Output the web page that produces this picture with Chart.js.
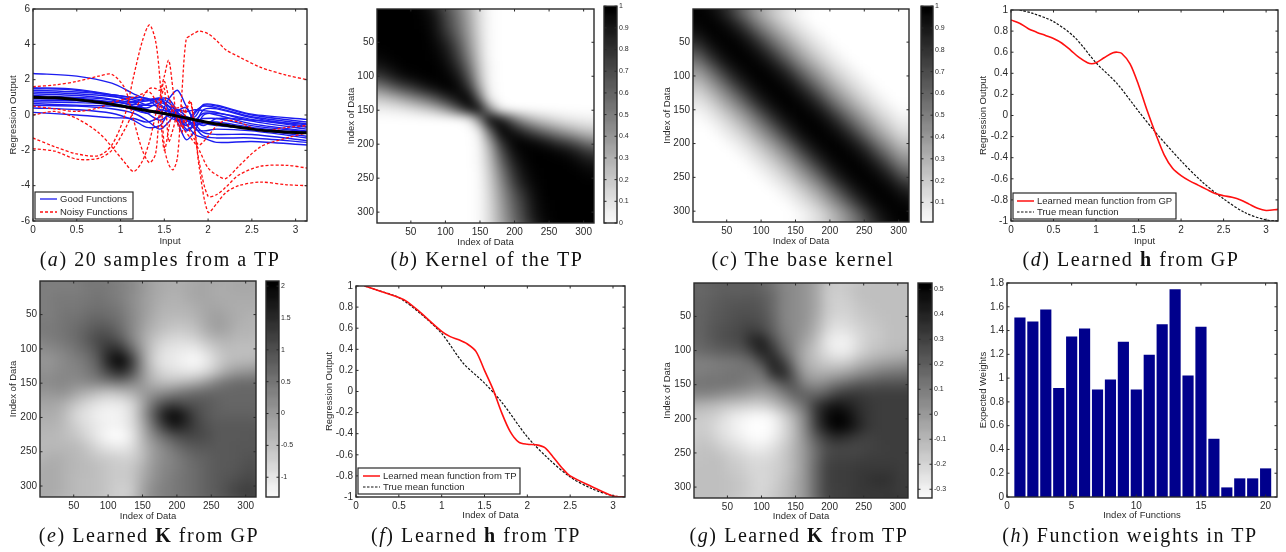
<!DOCTYPE html>
<html>
<head>
<meta charset="utf-8">
<title>Learned kernels</title>
<script src="https://cdn.jsdelivr.net/npm/chart.js@4/dist/chart.umd.min.js"></script>
<style>
    html, body { margin: 0; background: #fff; }
    body { position: relative; width: 1286px; height: 552px; overflow: hidden; }
    canvas { position: absolute; filter: blur(0.55px); }
    .cap { position: absolute; white-space: nowrap; transform: translateX(-50%);
        font: 20px 'Liberation Serif', serif; letter-spacing: 1.55px; color: #111; filter: blur(0.35px); }
</style>
</head>
<body>
<div class="cap" style="left:160px;top:248px">(<i>a</i>) 20 samples from a TP</div>
<div class="cap" style="left:487px;top:248px">(<i>b</i>) Kernel of the TP</div>
<div class="cap" style="left:803px;top:248px">(<i>c</i>) The base kernel</div>
<div class="cap" style="left:1131px;top:248px">(<i>d</i>) Learned <b>h</b> from GP</div>
<div class="cap" style="left:149px;top:524px">(<i>e</i>) Learned <b>K</b> from GP</div>
<div class="cap" style="left:476px;top:524px">(<i>f</i>) Learned <b>h</b> from TP</div>
<div class="cap" style="left:799px;top:524px">(<i>g</i>) Learned <b>K</b> from TP</div>
<div class="cap" style="left:1130px;top:524px">(<i>h</i>) Function weights in TP</div>
<script>
'use strict';

// --- panel a: samples
const blueX = [0, 0.5, 0.9, 1.15, 1.3, 1.45, 1.55, 1.65, 1.75, 1.85, 1.95, 2.1, 2.5, 3.13];
const goodFunctions = [
    [2.35, 2.2, 1.8, 1.2, 0.9, 0.9, 0.5, 0, -0.2, -0.1, 0.6, 0.55, 0.05, -0.25],
    [1.55, 1.45, 1.15, 0.95, 0.8, 0.95, 0.9, 0.2, -0.6, 0.1, 0.55, 0.5, 0, -0.4],
    [1.5, 1.4, 1.1, 0.7, 0.3, 0.1, 0.9, 1.4, 0.5, -0.3, -0.6, -0.2, -0.3, -0.55],
    [1.4, 1.3, 1.15, 1, 0.95, 0.6, 0.2, -0.3, -0.4, 0.2, 0.5, 0.4, -0.1, -0.5],
    [1.3, 1.2, 1.05, 0.85, 0.6, 0.9, 0.7, 0.1, -0.8, -0.5, 0.3, 0.35, -0.15, -0.65],
    [1.2, 1.1, 0.9, 0.7, 0.8, 0.95, 0.3, -0.4, -1.4, -0.9, 0, 0.1, -0.25, -0.7],
    [1.1, 1, 0.85, 0.5, 0.4, 0.7, 0.5, 0.3, 0.2, 0.3, 0.25, 0.15, -0.35, -0.8],
    [1, 0.95, 0.75, 0.6, 0.55, 0.5, 0.2, -0.2, -0.6, -0.3, 0.1, 0, -0.5, -0.9],
    [0.95, 0.85, 0.75, 0.75, 0.9, 0.3, -0.1, -0.3, -0.1, -0.3, -0.2, -0.2, -0.6, -0.95],
    [0.85, 0.8, 0.65, 0.45, 0.6, 0.8, 0.5, -0.2, -0.9, -0.6, -0.4, -0.4, -0.7, -1.05],
    [0.75, 0.7, 0.6, 0.3, 0.1, 0.3, 0.2, 0.1, -0.3, -0.5, -0.5, -0.6, -0.8, -1.2],
    [0.65, 0.55, 0.5, 0.35, 0.1, -0.3, 0, 0.1, -0.2, -0.8, -0.9, -0.8, -0.9, -1.3],
    [0.55, 0.5, 0.35, 0.1, -0.3, -0.8, -0.4, 0.2, 0.4, -0.5, -1, -1.1, -1.1, -1.45],
    [0.4, 0.3, 0.1, -0.3, -0.7, -0.6, 0.1, 0.3, -0.1, -0.7, -1.2, -1.3, -1.3, -1.55],
    [0.15, 0, -0.15, -0.2, -0.4, -0.1, 0.3, 0.1, -0.5, -1.1, -1.3, -1.55, -1.5, -1.7],
];
const redX = [0, 0.25, 0.5, 0.75, 0.9, 1.05, 1.15, 1.25, 1.33, 1.4, 1.45, 1.5, 1.55, 1.6, 1.65, 1.7, 1.75, 1.8, 1.85, 1.9, 2, 2.1, 2.2, 2.35, 2.6, 2.9, 3.13];
const noisyFunctions = [
    [-1.3, -1.8, -2.2, -2.3, -1.7, 0, 2.2, 4.2, 5.1, 4.2, 2, -1.8, -2.8, -3.1, -2.4, 1.2, 4.3, 4.5, 4.65, 4.75, 4.6, 4.2, 3.7, 3.3, 2.7, 2.25, 2],
    [-1.9, -2.05, -2.5, -2.45, -2, -0.8, 0.2, 1, 1.5, 1.5, 1.4, 2.2, 3.1, 1.4, -0.4, -0.6, 0.4, 0.8, -0.8, -3, -5.5, -5, -4.4, -4, -3.8, -3.95, -4],
    [0, 0.2, -0.2, -1, -1.8, -2.7, -3.2, -2.6, -1.5, 0, 1, 1.9, 1, 0.3, -0.5, -1, 0.2, 0.7, -1, -2.7, -4.6, -4.5, -4.1, -3.4, -2.9, -2.85, -3],
    [1.6, 1.7, 1.9, 2.2, 2.3, 1.5, -0.3, -2, -2.7, -2.2, 0.5, 1.5, -1.5, -0.8, 0, -0.6, -1, -1.3, -1.6, -2, -3, -3.4, -3.6, -2.9, -1.8, -1.3, -1],
    [0.5, 0.35, 0.2, 0.4, 0.7, 0.9, 1, 1.2, 1.3, 0.8, 0, -2, -0.8, 0.5, 0.4, 0.5, -0.3, -1, -1.4, -1.7, -1.2, -0.6, -0.3, -0.4, -0.9, -0.7, -0.6],
];
const sampleMeanX = [0, 0.25, 0.5, 0.75, 1, 1.25, 1.5, 1.75, 2, 2.25, 2.5, 2.75, 3, 3.13];
const sampleMean = [1, 0.97, 0.87, 0.72, 0.52, 0.3, 0.08, -0.17, -0.42, -0.62, -0.8, -0.92, -0.99, -1];

// --- panels d and f: mean functions
const gpMeanX = [0, 0.1, 0.2, 0.3, 0.4, 0.5, 0.6, 0.7, 0.8, 0.9, 0.95, 1, 1.1, 1.2, 1.25, 1.3, 1.4, 1.5, 1.6, 1.7, 1.8, 1.9, 2, 2.1, 2.2, 2.3, 2.4, 2.5, 2.6, 2.7, 2.8, 2.9, 3, 3.14];
const gpMean = [0.905, 0.875, 0.825, 0.79, 0.76, 0.73, 0.685, 0.62, 0.55, 0.5, 0.49, 0.5, 0.55, 0.595, 0.6, 0.59, 0.49, 0.29, 0.05, -0.17, -0.37, -0.5, -0.57, -0.62, -0.66, -0.7, -0.74, -0.76, -0.775, -0.8, -0.84, -0.88, -0.9, -0.89];
const trueMeanX = [0.1, 0.25, 0.5, 0.75, 1, 1.25, 1.5, 1.7, 2, 2.25, 2.5, 2.75, 3, 3.14];
const trueMeanD = [1, 0.97, 0.89, 0.74, 0.5, 0.3, 0.04, -0.16, -0.43, -0.63, -0.79, -0.92, -0.99, -1];
const tpMeanX = [0.1, 0.25, 0.5, 0.6, 0.75, 1, 1.1, 1.2, 1.3, 1.4, 1.5, 1.6, 1.7, 1.8, 1.9, 2, 2.1, 2.2, 2.3, 2.4, 2.5, 2.75, 3, 3.14];
const tpMean = [1, 0.96, 0.89, 0.85, 0.75, 0.57, 0.52, 0.49, 0.45, 0.38, 0.2, 0.02, -0.2, -0.38, -0.48, -0.5, -0.505, -0.53, -0.62, -0.72, -0.8, -0.9, -0.99, -1];
const trueMeanF = [1, 0.96, 0.89, 0.74, 0.55, 0.27, 0.08, -0.1, -0.43, -0.64, -0.81, -0.92, -0.99, -1];

// --- panel h: weights
const funcIndex = [1, 2, 3, 4, 5, 6, 7, 8, 9, 10, 11, 12, 13, 14, 15, 16, 17, 18, 19, 20];
const funcWeights = [1.507, 1.473, 1.574, 0.913, 1.347, 1.415, 0.902, 0.986, 1.303, 0.902, 1.193, 1.451, 1.745, 1.02, 1.429, 0.487, 0.078, 0.154, 0.154, 0.238];

// --- heatmaps: gray level (0 white, 100 black) read at these data indices
const cellIndex = [8, 24, 40, 55, 71, 87, 102, 118, 134, 150, 165, 181, 197, 212, 228, 244, 260, 275, 291, 307];
const kernelTP = [
    [100, 100, 100, 100, 98, 90, 72, 55, 35, 14, 2, 0, 0, 0, 0, 0, 0, 0, 0, 0],
    [100, 100, 100, 100, 99, 92, 75, 58, 37, 15, 2, 0, 0, 0, 0, 0, 0, 0, 0, 0],
    [100, 100, 100, 100, 100, 94, 80, 62, 40, 16, 2, 0, 0, 0, 0, 0, 0, 0, 0, 0],
    [100, 100, 100, 100, 100, 97, 88, 70, 44, 18, 2, 0, 0, 0, 0, 0, 0, 0, 0, 0],
    [98, 100, 100, 100, 100, 99, 92, 76, 50, 20, 2, 0, 0, 0, 0, 0, 0, 0, 0, 0],
    [92, 97, 100, 100, 100, 100, 96, 84, 58, 24, 3, 0, 0, 0, 0, 0, 0, 0, 0, 0],
    [78, 88, 95, 98, 100, 100, 99, 92, 68, 28, 3, 0, 0, 0, 0, 0, 0, 0, 0, 0],
    [50, 62, 72, 80, 90, 96, 100, 98, 82, 38, 4, 0, 0, 0, 0, 0, 0, 0, 0, 0],
    [22, 28, 36, 45, 55, 68, 82, 94, 100, 62, 8, 0, 0, 0, 0, 0, 0, 0, 0, 0],
    [6, 8, 10, 14, 20, 28, 42, 65, 92, 100, 45, 5, 0, 0, 0, 0, 0, 0, 0, 0],
    [0, 0, 0, 0, 0, 0, 0, 0, 5, 45, 100, 92, 65, 42, 28, 20, 14, 10, 8, 6],
    [0, 0, 0, 0, 0, 0, 0, 0, 0, 8, 62, 100, 94, 82, 68, 55, 45, 36, 28, 22],
    [0, 0, 0, 0, 0, 0, 0, 0, 0, 4, 38, 82, 98, 100, 96, 90, 80, 72, 62, 50],
    [0, 0, 0, 0, 0, 0, 0, 0, 0, 3, 28, 68, 92, 99, 100, 100, 98, 95, 88, 78],
    [0, 0, 0, 0, 0, 0, 0, 0, 0, 3, 24, 58, 84, 96, 100, 100, 100, 100, 97, 92],
    [0, 0, 0, 0, 0, 0, 0, 0, 0, 2, 20, 50, 76, 92, 99, 100, 100, 100, 100, 98],
    [0, 0, 0, 0, 0, 0, 0, 0, 0, 2, 18, 44, 70, 88, 97, 100, 100, 100, 100, 100],
    [0, 0, 0, 0, 0, 0, 0, 0, 0, 2, 16, 40, 62, 80, 94, 100, 100, 100, 100, 100],
    [0, 0, 0, 0, 0, 0, 0, 0, 0, 2, 15, 37, 58, 75, 92, 99, 100, 100, 100, 100],
    [0, 0, 0, 0, 0, 0, 0, 0, 0, 2, 14, 35, 55, 72, 90, 98, 100, 100, 100, 100],
];
const baseKernel = [
    [100, 98, 92, 80, 62, 46, 32, 20, 11, 5, 0, 0, 0, 0, 0, 0, 0, 0, 0, 0],
    [98, 100, 98, 92, 80, 62, 46, 32, 20, 11, 5, 0, 0, 0, 0, 0, 0, 0, 0, 0],
    [92, 98, 100, 98, 92, 80, 62, 46, 32, 20, 11, 5, 0, 0, 0, 0, 0, 0, 0, 0],
    [80, 92, 98, 100, 98, 92, 80, 62, 46, 32, 20, 11, 5, 0, 0, 0, 0, 0, 0, 0],
    [62, 80, 92, 98, 100, 98, 92, 80, 62, 46, 32, 20, 11, 5, 0, 0, 0, 0, 0, 0],
    [46, 62, 80, 92, 98, 100, 98, 92, 80, 62, 46, 32, 20, 11, 5, 0, 0, 0, 0, 0],
    [32, 46, 62, 80, 92, 98, 100, 98, 92, 80, 62, 46, 32, 20, 11, 5, 0, 0, 0, 0],
    [20, 32, 46, 62, 80, 92, 98, 100, 98, 92, 80, 62, 46, 32, 20, 11, 5, 0, 0, 0],
    [11, 20, 32, 46, 62, 80, 92, 98, 100, 98, 92, 80, 62, 46, 32, 20, 11, 5, 0, 0],
    [5, 11, 20, 32, 46, 62, 80, 92, 98, 100, 98, 92, 80, 62, 46, 32, 20, 11, 5, 0],
    [0, 5, 11, 20, 32, 46, 62, 80, 92, 98, 100, 98, 92, 80, 62, 46, 32, 20, 11, 5],
    [0, 0, 5, 11, 20, 32, 46, 62, 80, 92, 98, 100, 98, 92, 80, 62, 46, 32, 20, 11],
    [0, 0, 0, 5, 11, 20, 32, 46, 62, 80, 92, 98, 100, 98, 92, 80, 62, 46, 32, 20],
    [0, 0, 0, 0, 5, 11, 20, 32, 46, 62, 80, 92, 98, 100, 98, 92, 80, 62, 46, 32],
    [0, 0, 0, 0, 0, 5, 11, 20, 32, 46, 62, 80, 92, 98, 100, 98, 92, 80, 62, 46],
    [0, 0, 0, 0, 0, 0, 5, 11, 20, 32, 46, 62, 80, 92, 98, 100, 98, 92, 80, 62],
    [0, 0, 0, 0, 0, 0, 0, 5, 11, 20, 32, 46, 62, 80, 92, 98, 100, 98, 92, 80],
    [0, 0, 0, 0, 0, 0, 0, 0, 5, 11, 20, 32, 46, 62, 80, 92, 98, 100, 98, 92],
    [0, 0, 0, 0, 0, 0, 0, 0, 0, 5, 11, 20, 32, 46, 62, 80, 92, 98, 100, 98],
    [0, 0, 0, 0, 0, 0, 0, 0, 0, 0, 5, 11, 20, 32, 46, 62, 80, 92, 98, 100],
];
const learnedKGP = [
    [50, 50, 50, 50, 52, 53, 52, 50, 47, 42, 36, 33, 32, 33, 35, 35, 33, 33, 35, 35],
    [50, 52, 52, 52, 53, 55, 52, 50, 45, 40, 35, 32, 30, 32, 35, 35, 33, 33, 33, 33],
    [50, 52, 53, 53, 55, 56, 55, 52, 46, 40, 35, 30, 30, 30, 32, 35, 35, 33, 32, 32],
    [50, 52, 55, 55, 58, 60, 58, 55, 47, 40, 33, 28, 27, 27, 30, 35, 38, 35, 32, 30],
    [52, 53, 55, 58, 62, 66, 65, 58, 48, 38, 30, 25, 22, 22, 25, 33, 38, 35, 30, 30],
    [50, 52, 55, 58, 65, 72, 72, 65, 50, 36, 25, 18, 15, 15, 18, 25, 30, 30, 28, 28],
    [45, 47, 50, 55, 60, 70, 82, 82, 62, 40, 22, 12, 10, 8, 8, 15, 22, 26, 25, 25],
    [40, 43, 47, 50, 55, 65, 88, 100, 80, 45, 20, 10, 8, 4, 2, 8, 18, 25, 27, 28],
    [42, 45, 47, 48, 52, 60, 75, 85, 72, 45, 25, 15, 12, 10, 10, 15, 25, 35, 40, 42],
    [45, 47, 47, 45, 47, 50, 52, 55, 50, 42, 30, 25, 25, 28, 32, 40, 50, 55, 58, 58],
    [40, 42, 42, 35, 30, 25, 22, 25, 30, 38, 42, 45, 50, 55, 58, 60, 60, 60, 60, 60],
    [35, 35, 30, 22, 15, 10, 8, 8, 15, 32, 55, 70, 75, 70, 68, 65, 62, 60, 60, 60],
    [32, 32, 25, 15, 10, 6, 4, 5, 12, 35, 62, 88, 98, 88, 72, 65, 62, 62, 62, 62],
    [30, 30, 25, 18, 12, 8, 5, 5, 12, 30, 55, 78, 92, 85, 75, 68, 65, 65, 65, 65],
    [28, 28, 25, 22, 15, 8, 2, 0, 8, 27, 45, 58, 68, 72, 72, 70, 65, 65, 65, 66],
    [28, 28, 28, 27, 22, 15, 10, 8, 12, 25, 38, 47, 55, 62, 65, 66, 65, 65, 66, 66],
    [30, 32, 30, 28, 25, 22, 20, 18, 18, 25, 38, 45, 50, 55, 60, 62, 65, 65, 66, 68],
    [33, 33, 30, 28, 27, 25, 22, 20, 22, 30, 40, 47, 50, 55, 58, 62, 65, 65, 67, 70],
    [33, 33, 30, 27, 26, 25, 22, 20, 22, 32, 42, 48, 52, 55, 58, 62, 65, 67, 70, 72],
    [33, 33, 30, 27, 26, 25, 22, 18, 20, 35, 45, 50, 52, 55, 58, 62, 65, 70, 74, 76],
];
const learnedKTP = [
    [58, 60, 62, 62, 62, 62, 60, 55, 48, 45, 42, 35, 22, 20, 22, 25, 25, 25, 25, 25],
    [60, 62, 64, 65, 65, 66, 64, 58, 48, 45, 42, 35, 22, 18, 20, 24, 25, 25, 25, 25],
    [60, 63, 65, 67, 68, 68, 66, 58, 48, 45, 42, 35, 22, 18, 18, 22, 24, 25, 25, 25],
    [60, 64, 66, 68, 70, 70, 68, 60, 48, 45, 42, 33, 20, 15, 16, 20, 22, 24, 25, 25],
    [60, 65, 68, 70, 72, 76, 72, 62, 50, 45, 40, 30, 16, 10, 12, 16, 20, 22, 25, 25],
    [60, 64, 68, 70, 72, 85, 88, 70, 54, 45, 36, 25, 10, 5, 6, 14, 20, 22, 25, 25],
    [58, 60, 62, 64, 66, 75, 88, 80, 60, 45, 32, 22, 12, 6, 8, 16, 22, 25, 27, 28],
    [50, 50, 52, 52, 54, 58, 72, 88, 75, 50, 32, 25, 20, 18, 20, 28, 32, 36, 38, 40],
    [50, 52, 52, 54, 54, 52, 55, 82, 85, 60, 38, 32, 32, 34, 38, 44, 48, 52, 54, 55],
    [54, 55, 55, 55, 52, 50, 48, 55, 68, 66, 48, 44, 48, 55, 60, 65, 66, 68, 68, 68],
    [48, 48, 45, 42, 40, 36, 35, 40, 50, 62, 62, 60, 66, 75, 78, 78, 76, 76, 76, 76],
    [30, 28, 25, 22, 20, 18, 18, 24, 34, 45, 58, 78, 88, 92, 88, 82, 78, 76, 76, 76],
    [22, 20, 16, 10, 6, 3, 2, 6, 18, 32, 50, 78, 95, 100, 95, 84, 78, 76, 76, 76],
    [20, 18, 12, 8, 3, 0, 0, 3, 14, 28, 48, 76, 92, 100, 96, 86, 78, 76, 76, 76],
    [22, 20, 15, 10, 6, 2, 1, 6, 16, 28, 45, 65, 78, 84, 80, 76, 74, 76, 76, 76],
    [24, 24, 20, 16, 12, 8, 8, 12, 20, 30, 42, 58, 70, 72, 72, 72, 74, 75, 76, 76],
    [24, 25, 25, 20, 18, 14, 14, 16, 22, 30, 42, 58, 72, 74, 74, 75, 76, 76, 76, 76],
    [25, 25, 25, 22, 20, 16, 16, 18, 22, 30, 42, 60, 74, 76, 76, 78, 78, 78, 78, 76],
    [25, 25, 25, 24, 22, 18, 15, 18, 24, 32, 42, 60, 74, 76, 76, 78, 80, 82, 80, 76],
    [25, 25, 25, 24, 22, 18, 16, 20, 25, 32, 42, 60, 74, 75, 76, 78, 78, 78, 78, 76],
];
const barLevels = [0, 5, 10, 15, 20, 25, 30, 35, 40, 45, 50, 55, 60, 65, 70, 75, 80, 85, 90, 95, 100];

// --- tick labels
const indexTicks = [50, 100, 150, 200, 250, 300];
const inputTicks = [0, 0.5, 1, 1.5, 2, 2.5, 3];
const sampleTicks = [-6, -4, -2, 0, 2, 4, 6];
const meanTicks = [-1, -0.8, -0.6, -0.4, -0.2, 0, 0.2, 0.4, 0.6, 0.8, 1];
const weightTicks = [0, 0.2, 0.4, 0.6, 0.8, 1, 1.2, 1.4, 1.6, 1.8];
const functionTicks = [0, 5, 10, 15, 20];
const unitBarTicks = [0, 0.1, 0.2, 0.3, 0.4, 0.5, 0.6, 0.7, 0.8, 0.9, 1];
const baseBarTicks = [0.1, 0.2, 0.3, 0.4, 0.5, 0.6, 0.7, 0.8, 0.9, 1];
const gpBarTicks = [-1, -0.5, 0, 0.5, 1, 1.5, 2];
const tpBarTicks = [-0.3, -0.2, -0.1, 0, 0.1, 0.2, 0.3, 0.4, 0.5];

const FONT = "'Liberation Sans', Arial, sans-serif";
const INK = '#2a2a2a';

Chart.defaults.font.family = FONT;
Chart.defaults.color = INK;
Chart.defaults.animation = false;

const gray = (level) => {
    const g = Math.round(255 * (1 - level / 100));
    return `rgb(${g},${g},${g})`;
};

const xy = (xs, ys) => xs.map((x, i) => ({ x, y: ys[i] }));

// MATLAB style box with inward ticks on the four sides
const matlabBox = {
    id: 'matlabBox',
    afterDatasetsDraw(chart) {
        const { ctx, chartArea: a, scales } = chart;
        ctx.save();
        ctx.strokeStyle = INK;
        ctx.lineWidth = 1;
        const tl = 2.5;
        if (scales.x.options.display) {
            scales.x.ticks.forEach((_, i) => {
                const p = scales.x.getPixelForTick(i);
                ctx.beginPath();
                ctx.moveTo(p, a.top); ctx.lineTo(p, a.top + tl);
                ctx.moveTo(p, a.bottom); ctx.lineTo(p, a.bottom - tl);
                ctx.stroke();
            });
        }
        scales.y.ticks.forEach((_, i) => {
            const p = scales.y.getPixelForTick(i);
            ctx.beginPath();
            ctx.moveTo(a.left, p); ctx.lineTo(a.left + tl, p);
            ctx.moveTo(a.right, p); ctx.lineTo(a.right - tl, p);
            ctx.stroke();
        });
        ctx.lineWidth = 1.4;
        ctx.strokeRect(a.left, a.top, a.width, a.height);
        ctx.restore();
    },
};

// softens the cells drawn by the scatter dataset; the margin keeps the edges from fading
const softCells = {
    id: 'softCells',
    afterDatasetsDraw(chart, _, opts) {
        if (!opts.radius) return;
        const { ctx, chartArea: a, canvas } = chart;
        const m = Math.ceil(opts.radius * 3);
        const tmp = document.createElement('canvas');
        tmp.width = a.width + 2 * m;
        tmp.height = a.height + 2 * m;
        const t = tmp.getContext('2d');
        t.drawImage(canvas, a.left, a.top, a.width, a.height, 0, 0, tmp.width, tmp.height);
        t.drawImage(canvas, a.left, a.top, a.width, a.height, m, m, a.width, a.height);
        ctx.save();
        ctx.beginPath();
        ctx.rect(a.left, a.top, a.width, a.height);
        ctx.clip();
        ctx.filter = `blur(${opts.radius}px)`;
        ctx.drawImage(tmp, a.left - m, a.top - m);
        ctx.restore();
    },
};

const legendBox = {
    id: 'legendBox',
    afterDatasetsDraw(chart, _, opts) {
        if (!opts.items) return;
        const { ctx } = chart;
        const [x0, y0, x1, y1] = opts.box;
        ctx.save();
        ctx.fillStyle = '#fff';
        ctx.strokeStyle = INK;
        ctx.lineWidth = 1.2;
        ctx.fillRect(x0, y0, x1 - x0, y1 - y0);
        ctx.strokeRect(x0, y0, x1 - x0, y1 - y0);
        ctx.font = `9.5px ${FONT}`;
        ctx.textBaseline = 'middle';
        opts.items.forEach((it, i) => {
            const y = opts.rows[i];
            ctx.beginPath();
            ctx.strokeStyle = it.color;
            ctx.lineWidth = it.width;
            ctx.setLineDash(it.dash || []);
            ctx.moveTo(opts.sample[0], y);
            ctx.lineTo(opts.sample[1], y);
            ctx.stroke();
            ctx.fillStyle = INK;
            ctx.fillText(it.label, opts.textX, y);
        });
        ctx.restore();
    },
};

const addCanvas = (c) => {
    const el = document.createElement('canvas');
    el.width = c.r - c.l;
    el.height = c.b - c.t;
    el.style.left = `${c.l}px`;
    el.style.top = `${c.t}px`;
    document.body.appendChild(el);
    return el;
};

const scaleFor = (ticks, size, extra) => ({
    type: 'linear',
    offset: false,
    grid: { display: false, drawTicks: false },
    border: { display: false },
    afterBuildTicks: (s) => { s.ticks = ticks.map((value) => ({ value })); },
    ticks: { autoSkip: false, maxRotation: 0, padding: 3, font: { size: 10 }, callback: (v) => String(v) },
    afterFit: (s) => { if (s.isHorizontal()) s.height = size; else s.width = size; },
    ...extra,
});

const axisTitle = (text) => ({ display: true, text, padding: 0, font: { size: 9.5 } });

// c = canvas rect, a = plot rect, both in page pixels
const makePlot = (c, a, datasets, axes, plugins = {}, type = 'scatter') => new Chart(addCanvas(c), {
    type,
    data: { datasets },
    options: {
        responsive: false,
        layout: { autoPadding: false, padding: { top: a.t - c.t, right: c.r - a.r, left: 0, bottom: 0 } },
        elements: { point: { radius: 0 }, line: { tension: 0.3 } },
        scales: {
            x: scaleFor(axes.xTicks, c.b - a.b, { min: axes.x[0], max: axes.x[1], title: axisTitle(axes.xTitle) }),
            y: scaleFor(axes.yTicks, a.l - c.l, { min: axes.y[0], max: axes.y[1], reverse: !!axes.flipY, title: axisTitle(axes.yTitle) }),
        },
        plugins: { legend: { display: false }, tooltip: { enabled: false }, ...plugins },
    },
    plugins: [softCells, matlabBox, legendBox],
});

const makeHeat = (c, a, grid, xTitle, yTitle) => {
    const cells = grid.flatMap((row, r) => row.map((v, k) => ({ x: cellIndex[k], y: cellIndex[r], v })));
    return makePlot(c, a, [{
        data: cells,
        pointStyle: 'rect',
        pointRadius: 8.6,
        pointBorderWidth: 0,
        pointBackgroundColor: cells.map((p) => gray(p.v)),
    }], { x: [1, 315], y: [1, 316], flipY: true, xTicks: indexTicks, yTicks: indexTicks, xTitle, yTitle }, { softCells: { radius: 5.5 } });
};

const makeBar = (c, a, lo, hi, ticks, fontSize = 7) => {
    const points = barLevels.map((v) => ({ x: 0.5, y: lo + (hi - lo) * v / 100, v }));
    return new Chart(addCanvas(c), {
        type: 'scatter',
        data: {
            datasets: [{
                data: points,
                pointStyle: 'rect',
                pointRadius: 11,
                pointBorderWidth: 0,
                pointBackgroundColor: points.map((p) => gray(p.v)),
            }],
        },
        options: {
            responsive: false,
            layout: { autoPadding: false, padding: { top: a.t - c.t, left: a.l - c.l, right: 0, bottom: c.b - a.b } },
            scales: {
                x: { type: 'linear', display: false, min: 0, max: 1 },
                y: scaleFor(ticks, c.r - a.r, {
                    position: 'right',
                    min: lo,
                    max: hi,
                    ticks: { autoSkip: false, padding: 2, font: { size: fontSize }, callback: (v) => String(v) },
                }),
            },
            plugins: { legend: { display: false }, tooltip: { enabled: false }, softCells: { radius: 2.5 } },
        },
        plugins: [softCells, matlabBox],
    });
};

const curve = (xs, ys, color, width, dash) => ({
    data: xy(xs, ys),
    showLine: true,
    borderColor: color,
    borderWidth: width,
    borderDash: dash || [],
    pointRadius: 0,
    fill: false,
});

const legendAt = (c, box, rows, sample, textX, items) => ({
    legendBox: {
        box: [box[0] - c.l, box[1] - c.t, box[2] - c.l, box[3] - c.t],
        rows: rows.map((y) => y - c.t),
        sample: sample.map((x) => x - c.l),
        textX: textX - c.l,
        items,
    },
});

const RED = '#ff1010';
const BLUE = '#1c1cf0';
const DASH_RED = [3, 2];
const DASH_BLACK = [2.5, 1.5];

// (a)
const ca = { l: 8, t: 0, r: 312, b: 247 };
makePlot(ca, { l: 33, t: 5, r: 307, b: 221 }, [
    curve(sampleMeanX, sampleMean, '#000', 3),
    ...noisyFunctions.map((ys) => curve(redX, ys, RED, 1.3, DASH_RED)),
    ...goodFunctions.map((ys) => curve(blueX, ys, BLUE, 1.4)),
], { x: [0, 3.13], y: [-6, 6], xTicks: inputTicks, yTicks: sampleTicks, xTitle: 'Input', yTitle: 'Regression Output' },
legendAt(ca, [35, 192, 133, 219], [199, 212], [40, 57], 60, [
    { label: 'Good Functions', color: BLUE, width: 1.3 },
    { label: 'Noisy Functions', color: RED, width: 1.3, dash: DASH_RED },
]));

// (b)
makeHeat({ l: 346, t: 0, r: 598, b: 248 }, { l: 377, t: 5, r: 594, b: 223 }, kernelTP, 'Index of Data', 'Index of Data');
makeBar({ l: 600, t: 0, r: 640, b: 232 }, { l: 604, t: 5, r: 617, b: 223 }, 0, 1, unitBarTicks);

// (c)
makeHeat({ l: 662, t: 0, r: 914, b: 247 }, { l: 693, t: 4, r: 909, b: 222 }, baseKernel, 'Index of Data', 'Index of Data');
makeBar({ l: 917, t: 0, r: 960, b: 232 }, { l: 921, t: 4, r: 933, b: 222 }, 0.01, 1, baseBarTicks);

// (d)
const cd = { l: 978, t: 0, r: 1286, b: 247 };
makePlot(cd, { l: 1011, t: 10, r: 1278, b: 221 }, [
    curve(gpMeanX, gpMean, RED, 1.6),
    curve(trueMeanX, trueMeanD, '#111', 1.2, DASH_BLACK),
], { x: [0, 3.14], y: [-1, 1], xTicks: inputTicks, yTicks: meanTicks, xTitle: 'Input', yTitle: 'Regression Output' },
legendAt(cd, [1013, 193, 1176, 219], [201, 212], [1017, 1034], 1037, [
    { label: 'Learned mean function from GP', color: RED, width: 1.5 },
    { label: 'True mean function', color: '#111', width: 1.2, dash: DASH_BLACK },
]));

// (e)
makeHeat({ l: 8, t: 272, r: 260, b: 522 }, { l: 40, t: 281, r: 256, b: 497 }, learnedKGP, 'Index of Data', 'Index of Data');
makeBar({ l: 262, t: 272, r: 305, b: 505 }, { l: 266, t: 281, r: 279, b: 497 }, -1.31, 2.08, gpBarTicks);

// (f)
const cf = { l: 324, t: 276, r: 632, b: 521 };
makePlot(cf, { l: 356, t: 286, r: 625, b: 497 }, [
    curve(tpMeanX, tpMean, RED, 1.6),
    curve(trueMeanX, trueMeanF, '#111', 1.2, DASH_BLACK),
], { x: [0, 3.14], y: [-1, 1], xTicks: inputTicks, yTicks: meanTicks, xTitle: 'Index of Data', yTitle: 'Regression Output' },
legendAt(cf, [358, 468, 520, 494], [476, 487], [363, 380], 383, [
    { label: 'Learned mean function from TP', color: RED, width: 1.5 },
    { label: 'True mean function', color: '#111', width: 1.2, dash: DASH_BLACK },
]));

// (g)
makeHeat({ l: 662, t: 272, r: 912, b: 522 }, { l: 694, t: 283, r: 908, b: 498 }, learnedKTP, 'Index of Data', 'Index of Data');
makeBar({ l: 914, t: 272, r: 960, b: 506 }, { l: 918, t: 283, r: 932, b: 498 }, -0.335, 0.525, tpBarTicks);

// (h)
makePlot({ l: 978, t: 272, r: 1286, b: 521 }, { l: 1007, t: 283, r: 1277, b: 497 }, [{
    data: xy(funcIndex, funcWeights),
    backgroundColor: '#00008c',
    borderWidth: 0,
    barThickness: 10.5,
}], { x: [0, 20.88], y: [0, 1.8], xTicks: functionTicks, yTicks: weightTicks, xTitle: 'Index of Functions', yTitle: 'Expected Weights' }, {}, 'bar');
</script>
</body>
</html>
